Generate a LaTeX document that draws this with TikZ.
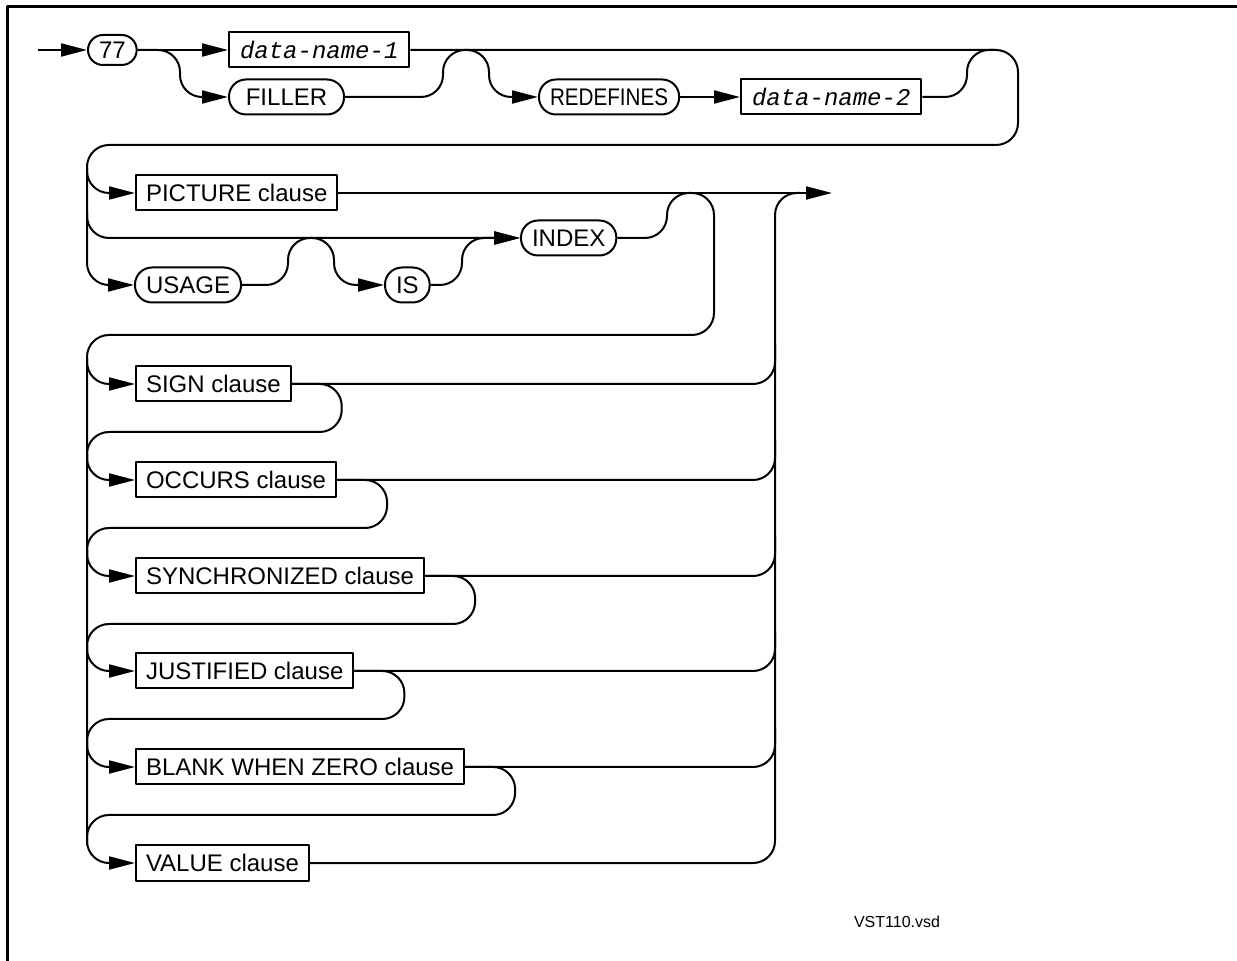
\documentclass[tikz,border=0pt]{standalone}
\usepackage{fontspec}
\setmainfont{Liberation Sans}
\newfontfamily\codefont{Liberation Mono}
\newfontfamily\narrowfont[FakeStretch=0.86]{Liberation Sans}
\usetikzlibrary{arrows.meta}

\begin{document}
\begin{tikzpicture}[
  x=0.5pt, y=-0.5pt,
  >={Triangle[length=13pt,width=6.5pt]},
  line width=1pt,
  line join=round,
  every node/.style={font=\fontsize{12}{14}\selectfont},
  kw/.style={draw, anchor=west, rounded corners=8.5pt, minimum height=17.5pt, inner xsep=5.5pt, inner ysep=0pt},
  clause/.style={draw, anchor=west, minimum height=17.5pt, inner xsep=5pt, inner ysep=0pt},
  ident/.style={clause, inner xsep=5.5pt, font=\fontsize{12}{14}\codefont\itshape},
  rail/.style={rounded corners=11pt}
]
  \useasboundingbox (0,0) rectangle (1237,961);
  \draw[line width=1.5pt] (7,961) -- (7,7) -- (1237,7);

  % Level number and the name that follows it
  \coordinate (start) at (38,50);
  \node[kw, minimum height=15pt, rounded corners=7.5pt] (lvl) at (87,50) {77};
  \node[ident] (dn1) at (228,50) {data-name-1};
  \node[kw, minimum width=57.5pt] (filler) at (228,97) {FILLER};
  \node[kw, font=\fontsize{12}{14}\narrowfont] (redef) at (538,97) {REDEFINES};
  \node[ident] (dn2) at (740,97) {data-name-2};

  \draw[->] (start) -- (lvl);
  \draw[->] (lvl) -- (dn1);
  \draw[->, rail] (lvl.east) -- (180,50) -- (180,97) -- (filler);
  \draw[->, rail] (filler) -- (443,97) -- (443,50) -- (489,50) -- (489,97) -- (redef);
  \draw[->] (redef) -- (dn2);
  \draw[rail] (dn2) -- (967,97) -- (967,50) -- (996,50);

  % PICTURE / USAGE group
  \node[clause] (picture) at (135,193) {PICTURE clause};
  \node[kw] (index) at (520,238) {INDEX};
  \node[kw] (usage) at (134,285) {USAGE};
  \node[kw] (is) at (384,285) {IS};

  \draw[->, rail] (dn1) -- (1018,50) -- (1018,145) -- (87,145) -- (87,285) -- (usage);
  \draw[->, rail] (87,168) |- (picture);
  \draw[->, rail] (87,212) |- (index);
  \draw[->, rail] (usage) -- (288,285) -- (288,238) -- (334,238) -- (334,285) -- (is);
  \draw[->, rail] (is) -- (462,285) -- (462,238) -- (index);
  \draw[->] (picture) -- (832,193);

  % The optional clauses
  \node[clause] (sign) at (135,384) {SIGN clause};
  \node[clause] (occurs) at (135,480) {OCCURS clause};
  \node[clause] (sync) at (135,576) {SYNCHRONIZED clause};
  \node[clause] (just) at (135,671) {JUSTIFIED clause};
  \node[clause] (blank) at (135,767) {BLANK WHEN ZERO clause};
  \node[clause] (value) at (135,863) {VALUE clause};

  \draw[->, rail] (index) -- (667,238) -- (667,193) -- (714,193) -- (714,335) -- (87,335) -- (87,863) -- (value);
  \draw[rail] (value) -- (775,863) -- (775,193) -- (800,193);

  \foreach \n in {sign,occurs,sync,just,blank}{
    \draw[->, rail] ([shift={(-48,-26)}]\n.west) |- (\n.west);
    \draw[rail] (\n.east) -- (\n.east -| 775,0) -- ++(0,-40);
    \draw[rail] (\n.east) -- ++(50,0) -- ++(0,48) -| ([shift={(-48,78)}]\n.west);
  }

  \node[font=\fontsize{8}{10}\selectfont] (tag) at (897,922) {VST110.vsd};
\end{tikzpicture}
\end{document}
